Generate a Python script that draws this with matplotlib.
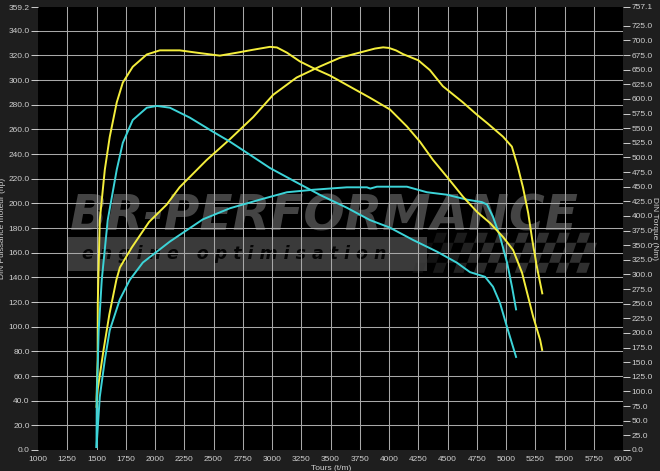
import numpy as np
import matplotlib
matplotlib.use("Agg")
import matplotlib.pyplot as plt
from matplotlib.patches import Rectangle, Polygon

plt.rcParams['font.family'] = ['Liberation Sans', 'DejaVu Sans']

# yellow run - power (hp, left axis)
yel_pwr_rpm = [1500, 1510, 1560, 1610, 1670, 1700, 1800, 1950, 2100, 2210, 2440, 2640, 2840,
               3010, 3210, 3410, 3580, 3780, 3880, 3950, 4000, 4060, 4120, 4250, 4350, 4460,
               4630, 4750, 4840, 4975, 5050, 5100, 5145, 5190, 5225, 5265, 5310]
yel_pwr_hp = [35, 49, 81, 110, 138, 148, 164, 185, 199, 213, 235, 252, 270,
              288, 302, 311, 318, 323, 325.5, 326.5, 326, 324, 321, 316, 308, 295,
              282, 272, 265, 254, 246, 230, 213, 192, 170, 148, 127]

# yellow run - torque (Nm, right axis)
yel_trq_rpm = [1500, 1510, 1511, 1528, 1571, 1613, 1673, 1725, 1810, 1930, 2041, 2212, 2358,
               2554, 2700, 2837, 2982, 3042, 3128, 3239, 3350, 3495, 3666, 3837, 4008, 4153,
               4264, 4375, 4495, 4632, 4752, 4863, 4975, 5060, 5137, 5189, 5232, 5292, 5309]
yel_trq_nm = [85, 154, 251, 393, 479, 535, 594, 628, 655, 676, 683, 683, 679,
              674, 679, 684, 689, 688, 679, 664, 653, 640, 621, 602, 582, 553,
              527, 496, 467, 433, 407, 388, 364, 342, 303, 262, 228, 188, 171]

# cyan run - torque (Nm, right axis)
cyn_trq_rpm = [1500, 1502, 1519, 1545, 1596, 1673, 1725, 1810, 1930, 2016, 2127, 2298, 2495,
               2640, 2785, 2982, 3213, 3410, 3640, 3837, 4008, 4205, 4410, 4581, 4692, 4821,
               4889, 4949, 5009, 5086]
cyn_trq_nm = [5, 85, 205, 291, 393, 479, 525, 564, 585, 588, 585, 568, 544,
              527, 508, 482, 457, 436, 414, 393, 380, 359, 339, 320, 304, 296,
              279, 251, 210, 159]

# cyan run - power (hp, left axis)
cyn_pwr_rpm = [1500, 1528, 1571, 1613, 1699, 1785, 1896, 2127, 2409, 2640, 2897, 3128, 3350,
               3640, 3811, 3840, 3897, 4153, 4324, 4495, 4666, 4794, 4838, 4889, 4949, 5009,
               5052, 5086]
cyn_pwr_hp = [2.4, 43, 73, 97, 122, 138, 152, 169, 187, 196, 203, 209, 211,
              213, 213, 212, 213.5, 213.5, 209, 207, 203, 201, 199, 189, 173, 152,
              132, 114]

rpm_ticks = np.arange(1000, 6001, 250)
hp_ticks = list(np.arange(0, 341, 20)) + [359.2]
nm_ticks = list(np.arange(0, 726, 25)) + [757.1]

YELLOW = '#f4ee3c'
CYAN = '#3cd4d8'
TXT = '#cfcfcf'

fig = plt.figure(figsize=(6.6, 4.71), dpi=100, facecolor='#1e1e1e')
ax = fig.add_axes([38 / 660, 21 / 471, 585 / 660, 443 / 471])
ax.set_facecolor('black')
ax.set_xlim(1000, 6000)
ax.set_ylim(0, 359.2)

# watermark (logo, band, checkered flag)
ax.add_patch(Rectangle((0.05, 0.405), 0.615, 0.075, transform=ax.transAxes,
                       facecolor='#3a3a3a', edgecolor='none', zorder=0.5))
ax.text(0.055, 0.527, 'BR-PERFORMANCE', transform=ax.transAxes, fontsize=35,
        fontweight='heavy', fontstyle='italic', color='#444444', va='center',
        ha='left', family='DejaVu Sans', zorder=0.6)
ax.text(0.075, 0.443, 'e n g i n e   o p t i m i s a t i o n', transform=ax.transAxes,
        fontsize=12.5, fontweight='bold', fontstyle='italic', color='#050505',
        va='center', ha='left', family='DejaVu Sans', zorder=0.7)
sq_w, sq_h = 0.0175, 0.0226
for r in range(4):
    for c in range(17):
        if (r + c) % 2:
            continue
        x0 = 0.64 + c * sq_w + r * 0.006
        y0 = 0.40 + r * sq_h
        alpha = min(1.0, 0.3 + c * 0.1)
        ax.add_patch(Polygon([(x0, y0), (x0 + sq_w, y0), (x0 + sq_w + 0.006, y0 + sq_h),
                              (x0 + 0.006, y0 + sq_h)], closed=True, transform=ax.transAxes,
                             facecolor='#303030', edgecolor='none', alpha=alpha, zorder=0.5))

ax.set_xticks(rpm_ticks)
ax.set_xticklabels([str(v) for v in rpm_ticks])
ax.set_yticks(hp_ticks)
ax.set_yticklabels(['%.1f' % v for v in hp_ticks])
ax.grid(True, color='#a8a8a8', linewidth=0.75, zorder=1)
ax.set_axisbelow(False)
for gl in (ax.get_ygridlines()[0], ax.get_ygridlines()[-1],
           ax.get_xgridlines()[0], ax.get_xgridlines()[-1]):
    gl.set_visible(False)
ax.tick_params(axis='x', colors=TXT, labelsize=6, length=0, pad=4)
ax.tick_params(axis='y', colors=TXT, labelsize=6, length=5, width=0.7, pad=1)
for sp in ax.spines.values():
    sp.set_visible(False)

ax.plot(yel_pwr_rpm, yel_pwr_hp, color=YELLOW, lw=1.4, zorder=3)
ax.plot(cyn_pwr_rpm, cyn_pwr_hp, color=CYAN, lw=1.4, zorder=3)
ax.set_ylabel('DIN Puissance moteur (hp)', color=TXT, fontsize=6, labelpad=2)

ax2 = ax.twinx()
ax2.set_ylim(0, 757.1)
ax2.set_yticks(nm_ticks)
ax2.set_yticklabels(['%.1f' % v for v in nm_ticks])
ax2.tick_params(axis='y', colors=TXT, labelsize=6, length=5, width=0.7, pad=1)
for sp in ax2.spines.values():
    sp.set_visible(False)
ax2.plot(yel_trq_rpm, yel_trq_nm, color=YELLOW, lw=1.4, zorder=3)
ax2.plot(cyn_trq_rpm, cyn_trq_nm, color=CYAN, lw=1.4, zorder=3)
ax2.set_ylabel('DIN Torque (Nm)', color=TXT, fontsize=6, rotation=270, labelpad=4)

fig.text(331 / 660, 1 - 465 / 471, 'Tours (t/m)', color=TXT, fontsize=6, ha='center', va='top')

fig.savefig('out.png', dpi=100, facecolor=fig.get_facecolor())
